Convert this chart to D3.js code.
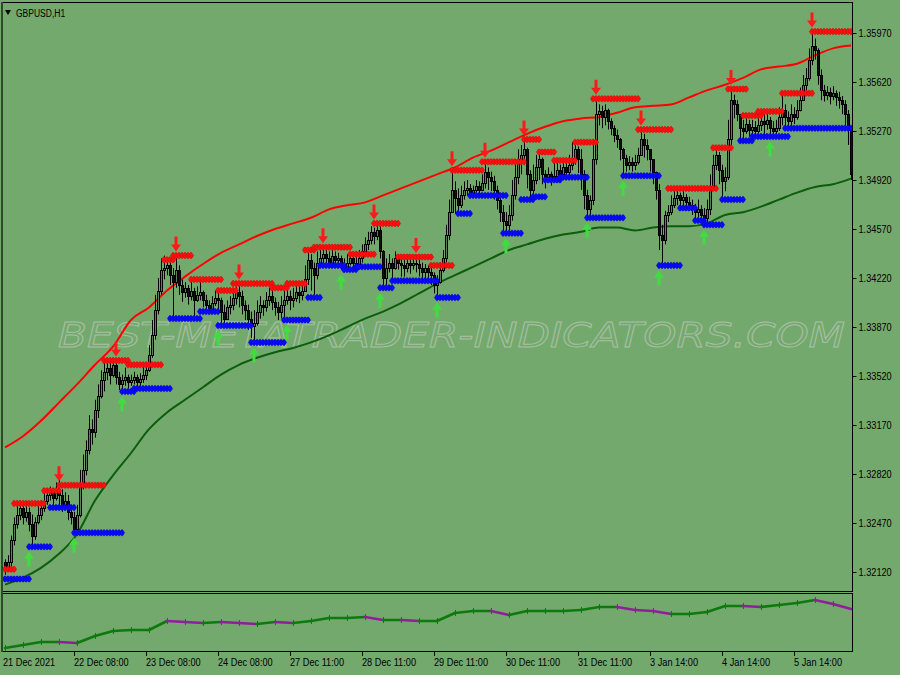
<!DOCTYPE html>
<html><head><meta charset="utf-8">
<script src="https://cdn.jsdelivr.net/npm/d3@7"></script>
<style>html,body{margin:0;padding:0;background:#74a96e;} svg{display:block}</style>
</head><body><svg id="c" width="900" height="675"></svg>
<script>
// ---------------- DATA ----------------
const symbolTitle = "GBPUSD,H1";
const watermark = "BEST-METATRADER-INDICATORS.COM";
const firstOpen = 1.3219;
const closes = [
1.3215,1.3219,1.3235,1.3246,1.3253,1.3258,1.3251,1.3255,1.3246,1.3238,
1.3248,1.3253,1.3258,1.3263,1.3267,1.3269,1.3265,1.3271,1.3267,1.3260,
1.3263,1.3255,1.3251,1.3243,1.3253,1.3274,1.3285,1.3299,1.3314,1.3312,
1.3328,1.3338,1.3349,1.3355,1.3358,1.3353,1.3360,1.3351,1.3346,1.3349,
1.3351,1.3348,1.3349,1.3351,1.3348,1.3350,1.3353,1.3356,1.3367,1.3381,
1.3399,1.3413,1.3428,1.3429,1.3431,1.3424,1.3419,1.3428,1.3417,1.3412,
1.3415,1.3409,1.3413,1.3406,1.3410,1.3412,1.3406,1.3403,1.3399,1.3404,
1.3408,1.3406,1.3398,1.3393,1.3401,1.3403,1.3408,1.3412,1.3409,1.3403,
1.3399,1.3393,1.3388,1.3390,1.3398,1.3403,1.3401,1.3406,1.3409,1.3405,
1.3401,1.3398,1.3403,1.3406,1.3409,1.3406,1.3408,1.3412,1.3410,1.3413,
1.3421,1.3435,1.3429,1.3424,1.3433,1.3436,1.3439,1.3436,1.3433,1.3438,
1.3435,1.3436,1.3432,1.3429,1.3433,1.3436,1.3433,1.3432,1.3436,1.3441,
1.3446,1.3449,1.3455,1.3452,1.3456,1.3441,1.3422,1.3429,1.3433,1.3429,
1.3436,1.3433,1.3431,1.3429,1.3433,1.3431,1.3433,1.3432,1.3429,1.3426,
1.3429,1.3426,1.3424,1.3417,1.3419,1.3428,1.3436,1.3453,1.3469,1.3485,
1.3479,1.3474,1.3481,1.3485,1.3486,1.3483,1.3485,1.3488,1.3485,1.3490,
1.3498,1.3494,1.3491,1.3485,1.3478,1.3469,1.3463,1.3460,1.3467,1.3481,
1.3494,1.3507,1.3510,1.3514,1.3496,1.3485,1.3492,1.3501,1.3507,1.3496,
1.3494,1.3496,1.3492,1.3495,1.3499,1.3496,1.3501,1.3498,1.3503,1.3508,
1.3514,1.3507,1.3496,1.3481,1.3471,1.3478,1.3507,1.3539,1.3541,1.3537,
1.3542,1.3534,1.3529,1.3524,1.3521,1.3514,1.3508,1.3503,1.3505,1.3503,
1.3505,1.3510,1.3521,1.3517,1.3514,1.3507,1.3498,1.3485,1.3453,1.3449,
1.3467,1.3469,1.3474,1.3479,1.3481,1.3478,1.3480,1.3476,1.3474,1.3472,
1.3469,1.3471,1.3467,1.3465,1.3471,1.3488,1.3503,1.3510,1.3499,1.3491,
1.3494,1.3521,1.3549,1.3546,1.3539,1.3529,1.3527,1.3532,1.3528,1.3530,
1.3527,1.3531,1.3534,1.3532,1.3535,1.3529,1.3527,1.3529,1.3537,1.3542,
1.3537,1.3534,1.3539,1.3537,1.3542,1.3549,1.3560,1.3565,1.3578,1.3588,
1.3585,1.3567,1.3556,1.3553,1.3555,1.3552,1.3554,1.3551,1.3549,1.3546,
1.3539,1.3528,1.3496];
const highs = [
1.3221,1.3224,1.3238,1.3251,1.3261,1.3263,1.3260,1.3261,1.3258,1.3253,
1.3251,1.3260,1.3263,1.3271,1.3272,1.3273,1.3272,1.3276,1.3278,1.3271,
1.3269,1.3267,1.3258,1.3255,1.3260,1.3285,1.3296,1.3306,1.3324,1.3321,
1.3335,1.3346,1.3356,1.3362,1.3365,1.3363,1.3365,1.3363,1.3355,1.3353,
1.3358,1.3353,1.3353,1.3355,1.3353,1.3354,1.3359,1.3362,1.3374,1.3392,
1.3410,1.3422,1.3436,1.3438,1.3436,1.3433,1.3429,1.3439,1.3431,1.3421,
1.3419,1.3417,1.3422,1.3415,1.3416,1.3421,1.3413,1.3410,1.3406,1.3409,
1.3413,1.3413,1.3408,1.3403,1.3406,1.3409,1.3413,1.3416,1.3418,1.3413,
1.3406,1.3403,1.3398,1.3399,1.3406,1.3409,1.3406,1.3412,1.3415,1.3415,
1.3408,1.3405,1.3409,1.3413,1.3418,1.3413,1.3415,1.3417,1.3416,1.3419,
1.3431,1.3442,1.3439,1.3433,1.3441,1.3442,1.3444,1.3442,1.3441,1.3442,
1.3441,1.3440,1.3438,1.3436,1.3439,1.3439,1.3439,1.3438,1.3442,1.3446,
1.3451,1.3455,1.3459,1.3458,1.3462,1.3459,1.3442,1.3436,1.3439,1.3436,
1.3441,1.3439,1.3437,1.3435,1.3436,1.3436,1.3436,1.3437,1.3435,1.3433,
1.3432,1.3431,1.3431,1.3426,1.3424,1.3433,1.3442,1.3460,1.3478,1.3499,
1.3491,1.3486,1.3488,1.3491,1.3492,1.3489,1.3488,1.3492,1.3491,1.3496,
1.3505,1.3501,1.3498,1.3495,1.3488,1.3481,1.3474,1.3469,1.3474,1.3492,
1.3507,1.3514,1.3517,1.3521,1.3515,1.3499,1.3503,1.3510,1.3512,1.3508,
1.3499,1.3501,1.3498,1.3506,1.3505,1.3503,1.3506,1.3505,1.3510,1.3519,
1.3517,1.3516,1.3514,1.3499,1.3485,1.3481,1.3521,1.3550,1.3546,1.3545,
1.3546,1.3543,1.3536,1.3531,1.3528,1.3522,1.3515,1.3510,1.3509,1.3508,
1.3510,1.3515,1.3528,1.3525,1.3521,1.3514,1.3507,1.3496,1.3489,1.3460,
1.3470,1.3474,1.3481,1.3486,1.3485,1.3483,1.3485,1.3482,1.3480,1.3478,
1.3475,1.3478,1.3474,1.3472,1.3478,1.3496,1.3510,1.3515,1.3512,1.3503,
1.3501,1.3535,1.3558,1.3553,1.3549,1.3539,1.3535,1.3538,1.3535,1.3535,
1.3534,1.3537,1.3541,1.3539,1.3540,1.3537,1.3534,1.3535,1.3544,1.3554,
1.3546,1.3541,1.3546,1.3544,1.3549,1.3558,1.3567,1.3572,1.3586,1.3598,
1.3593,1.3586,1.3571,1.3560,1.3559,1.3558,1.3559,1.3556,1.3555,1.3552,
1.3549,1.3542,1.3529];
const lows = [
1.3210,1.3212,1.3216,1.3231,1.3243,1.3249,1.3246,1.3248,1.3241,1.3231,
1.3235,1.3246,1.3249,1.3255,1.3260,1.3263,1.3260,1.3263,1.3260,1.3255,
1.3256,1.3249,1.3246,1.3240,1.3242,1.3251,1.3271,1.3281,1.3296,1.3303,
1.3308,1.3322,1.3336,1.3341,1.3349,1.3346,1.3351,1.3346,1.3342,1.3342,
1.3345,1.3343,1.3345,1.3346,1.3344,1.3345,1.3347,1.3349,1.3355,1.3365,
1.3378,1.3396,1.3410,1.3421,1.3424,1.3417,1.3393,1.3415,1.3410,1.3405,
1.3408,1.3403,1.3406,1.3393,1.3405,1.3406,1.3401,1.3398,1.3396,1.3399,
1.3402,1.3398,1.3388,1.3388,1.3392,1.3396,1.3399,1.3403,1.3401,1.3396,
1.3392,1.3385,1.3379,1.3377,1.3388,1.3393,1.3395,1.3398,1.3402,1.3399,
1.3395,1.3392,1.3393,1.3392,1.3403,1.3399,1.3401,1.3405,1.3404,1.3406,
1.3412,1.3417,1.3413,1.3408,1.3421,1.3429,1.3431,1.3431,1.3429,1.3432,
1.3431,1.3431,1.3428,1.3426,1.3428,1.3431,1.3430,1.3430,1.3431,1.3433,
1.3438,1.3442,1.3446,1.3446,1.3449,1.3436,1.3413,1.3417,1.3426,1.3420,
1.3428,1.3428,1.3423,1.3423,1.3426,1.3425,1.3428,1.3426,1.3423,1.3421,
1.3422,1.3419,1.3417,1.3411,1.3408,1.3418,1.3426,1.3433,1.3449,1.3469,
1.3468,1.3468,1.3472,1.3478,1.3481,1.3479,1.3481,1.3483,1.3481,1.3484,
1.3486,1.3485,1.3484,1.3478,1.3471,1.3462,1.3456,1.3454,1.3456,1.3463,
1.3478,1.3489,1.3496,1.3503,1.3486,1.3478,1.3479,1.3489,1.3492,1.3489,
1.3486,1.3491,1.3488,1.3491,1.3492,1.3491,1.3492,1.3492,1.3495,1.3499,
1.3503,1.3497,1.3485,1.3471,1.3465,1.3467,1.3474,1.3503,1.3531,1.3529,
1.3531,1.3528,1.3524,1.3519,1.3515,1.3506,1.3495,1.3498,1.3499,1.3498,
1.3499,1.3503,1.3510,1.3508,1.3506,1.3498,1.3489,1.3478,1.3442,1.3429,
1.3446,1.3462,1.3467,1.3472,1.3474,1.3472,1.3473,1.3472,1.3471,1.3467,
1.3463,1.3463,1.3462,1.3461,1.3461,1.3467,1.3485,1.3499,1.3489,1.3480,
1.3484,1.3492,1.3517,1.3536,1.3534,1.3519,1.3521,1.3525,1.3523,1.3524,
1.3523,1.3525,1.3527,1.3525,1.3528,1.3523,1.3523,1.3523,1.3527,1.3531,
1.3529,1.3528,1.3531,1.3532,1.3535,1.3541,1.3549,1.3556,1.3563,1.3574,
1.3578,1.3560,1.3549,1.3548,1.3549,1.3546,1.3549,1.3545,1.3543,1.3539,
1.3531,1.3517,1.3492];

// moving-average envelope, one value every 6 bars
const maStep = 6;
const maUpper = [1.3301,1.3309,1.3320,1.3333,1.3346,1.3360,1.3373,1.3392,1.3401,1.3413,1.3423,1.3432,1.3440,1.3446,1.3452,1.3457,1.3461,1.3465,1.3471,1.3474,1.3476,1.3481,1.3486,1.3491,1.3496,1.3501,1.3508,1.3513,1.3519,1.3525,1.3530,1.3534,1.3536,1.3537,1.3540,1.3544,1.3545,1.3546,1.3551,1.3556,1.3560,1.3565,1.3571,1.3573,1.3575,1.3581,1.3586,1.3588];
const maLower = [1.3203,1.3208,1.3215,1.3225,1.3239,1.3263,1.3281,1.3297,1.3314,1.3326,1.3335,1.3344,1.3353,1.3360,1.3365,1.3369,1.3372,1.3376,1.3381,1.3387,1.3393,1.3398,1.3404,1.3411,1.3418,1.3424,1.3430,1.3436,1.3442,1.3446,1.3450,1.3453,1.3455,1.3458,1.3458,1.3456,1.3458,1.3459,1.3459,1.3461,1.3467,1.3469,1.3473,1.3478,1.3483,1.3487,1.3489,1.3493];
const oscValues = [5.3,10.5,15.8,15.8,14,26.3,35.1,36.8,36.8,52.6,50.9,49.1,50.9,49.1,47.4,50.9,49.1,52.6,57.9,57.9,59.6,54.4,54.4,52.6,52.6,66.7,70.2,70.2,63.2,70.2,70.2,70.2,71.9,77.2,77.2,71.9,70.2,64.9,64.9,68.4,78.9,78.9,77.2,80.7,84.2,89.5,82.5,73.7];

// resistance / support levels: [firstBar, lastBar, price]
const resistance = [[0,3,1.3214],[3,13,1.3261],[13,18,1.3270],[18,33,1.3274],[33,41,1.3363],[41,52,1.3360],[53,56,1.3435],[56,62,1.3438],[62,72,1.3421],[71,77,1.3413],[76,89,1.3418],[89,94,1.3415],[94,100,1.3418],[100,103,1.3442],[103,115,1.3444],[115,123,1.3439],[123,131,1.3461],[131,142,1.3437],[142,149,1.3431],[149,159,1.3499],[159,173,1.3505],[173,178,1.3521],[178,183,1.3512],[183,190,1.3506],[190,197,1.3519],[196,211,1.3550],[211,222,1.3528],[221,237,1.3486],[236,242,1.3515],[241,247,1.3557],[246,252,1.3538],[251,259,1.3541],[259,269,1.3554],[269,282,1.3598]];
const support = [[0,8,1.3207],[8,15,1.3230],[15,23,1.3258],[23,39,1.3240],[39,43,1.3341],[43,55,1.3343],[55,65,1.3393],[65,71,1.3398],[71,75,1.3388],[76,82,1.3388],[82,93,1.3376],[93,101,1.3392],[101,105,1.3408],[105,113,1.3431],[113,117,1.3428],[117,125,1.3430],[125,129,1.3415],[129,144,1.3420],[144,151,1.3408],[151,155,1.3468],[155,167,1.3481],[166,172,1.3454],[172,176,1.3478],[176,180,1.3480],[180,185,1.3492],[185,194,1.3494],[194,206,1.3465],[206,218,1.3495],[218,225,1.3431],[225,230,1.3472],[230,233,1.3463],[233,239,1.3460],[239,246,1.3478],[245,249,1.3520],[249,261,1.3523],[260,282,1.3529]];
// signal arrows: [bar, level]
const sellSignals = [[18,1.3274],[37,1.3363],[57,1.3438],[78,1.3418],[106,1.3444],[123,1.3461],[137,1.3437],[149,1.3499],[160,1.3505],[173,1.3521],[197,1.3550],[212,1.3528],[242,1.3557],[269,1.3598]];
const buySignals = [[8,1.3230],[23,1.3240],[39,1.3341],[71,1.3388],[83,1.3376],[94,1.3392],[112,1.3428],[125,1.3415],[144,1.3408],[167,1.3454],[194,1.3465],[206,1.3495],[218,1.3431],[233,1.3460],[255,1.3523]];

const priceTicks = [1.35970,1.35620,1.35270,1.34920,1.34570,1.34220,1.33870,1.33520,1.33170,1.32820,1.32470,1.32120];
const timeLabels = ["21 Dec 2021","22 Dec 08:00","23 Dec 08:00","24 Dec 08:00","27 Dec 11:00","28 Dec 11:00","29 Dec 11:00","30 Dec 11:00","31 Dec 11:00","3 Jan 14:00","4 Jan 14:00","5 Jan 14:00"];
const timeBars = [0,23,47,71,95,119,143,167,191,215,239,263];

// ---------------- DRAW ----------------
const FONT = "'Liberation Sans',Arial,sans-serif";
const FS = 11.5, SX = 0.8;
const BG = "#74a96e";
const svg = d3.select('#c');
svg.append('rect').attr('width',900).attr('height',675).attr('fill',BG);

const N = closes.length;
const x = d3.scaleLinear().domain([0, N-1]).range([5, 5 + 3*(N-1)]);
const y = d3.scaleLinear().domain([1.3212, 1.3597]).range([572, 33]);
const yo = d3.scaleLinear().domain([0, 100]).range([651, 594]);

function label(g, tx, ty, str, sx){
  g.append('text').attr('transform',`translate(${tx},${ty}) scale(${sx||SX},1)`)
    .attr('font-family',FONT).attr('font-size',FS).attr('fill','#000').text(str);
}

const defs = svg.append('defs');
defs.append('clipPath').attr('id','mainClip').append('rect').attr('x',3).attr('y',3).attr('width',849).attr('height',588);
defs.append('clipPath').attr('id','subClip').append('rect').attr('x',3).attr('y',594).attr('width',849).attr('height',57);

const main = svg.append('g').attr('clip-path','url(#mainClip)');

// watermark
main.append('text').attr('x',58).attr('y',347)
  .attr('font-family',"'DejaVu Sans',sans-serif").attr('font-size',33).attr('font-style','italic')
  .attr('textLength',787).attr('lengthAdjust','spacingAndGlyphs')
  .attr('fill','none').attr('stroke','#b3c4af').attr('stroke-width',0.9).attr('opacity',0.85)
  .text(watermark);

// MA lines
const maLine = d3.line().x((d,i)=>x(Math.min(i*maStep, N-1))).y(d=>y(d)).curve(d3.curveMonotoneX);
main.append('path').attr('d',maLine(maUpper)).attr('fill','none').attr('stroke','#ff0000').attr('stroke-width',2);
main.append('path').attr('d',maLine(maLower)).attr('fill','none').attr('stroke','#0b5e0b').attr('stroke-width',2);

// candles
const candles = closes.map((c,i)=>{
  const o = i===0 ? firstOpen : closes[i-1];
  return {i, o, c, h: Math.max(highs[i], o, c), l: Math.min(lows[i], o, c)};
});
const cg = main.append('g');
candles.forEach(d=>{
  const cx = Math.round(x(d.i)) + 0.5;
  cg.append('line').attr('x1',cx).attr('x2',cx).attr('y1',y(d.h)).attr('y2',y(d.l)).attr('stroke','#000').attr('stroke-width',1);
  const top = Math.round(y(Math.max(d.o,d.c))) + 0.5;
  const bot = Math.max(top + 1, Math.round(y(Math.min(d.o,d.c))) + 0.5);
  cg.append('rect').attr('x',cx-1).attr('y',top).attr('width',2).attr('height',bot-top)
    .attr('fill', d.c >= d.o ? '#5f7f5e' : '#111').attr('stroke','#000').attr('stroke-width',1);
});

// level markers (one mark per bar)
const marker = "M-2.6,0 L-0.6,-3 L0.6,-3 L2.6,0 L0.6,3 L-0.6,3 Z";
function drawLevels(levels, fill, edge){
  const g = main.append('g');
  levels.forEach(([s,e,p])=>{
    g.append('rect').attr('x',x(s)-2).attr('y',y(p)-1.3).attr('width',x(e)-x(s)+4).attr('height',2.6).attr('fill',fill);
    d3.range(s, e+1).forEach(i=>{
      g.append('path').attr('d',marker).attr('transform',`translate(${x(i)},${y(p)})`)
        .attr('fill',fill).attr('stroke',edge).attr('stroke-width',0.5);
    });
  });
}
drawLevels(resistance,'#ff1010','#d00000');
drawLevels(support,'#0a0aff','#0000c8');

// arrows
const ag = main.append('g');
sellSignals.forEach(([b,p])=>{
  const cx = x(b), tip = y(p) - 4;
  ag.append('path').attr('d',`M${cx-1.5},${tip-15} h3 v8 h3.5 L${cx},${tip} L${cx-5},${tip-7} h3.5 Z`).attr('fill','#ff1a1a');
});
buySignals.forEach(([b,p])=>{
  const cx = x(b), tip = y(p) + 5;
  ag.append('path').attr('d',`M${cx-1.5},${tip+15} h3 v-8 h3.5 L${cx},${tip} L${cx-5},${tip+7} h3.5 Z`).attr('fill','#3fdd3f');
});

// oscillator subwindow
const sub = svg.append('g').attr('clip-path','url(#subClip)');
for (let k=0; k<oscValues.length-1; k++){
  const i0 = Math.min(k*maStep, N-1), i1 = Math.min((k+1)*maStep, N-1);
  const col = oscValues[k+1] >= oscValues[k] ? '#0d7a0d' : '#8e1f9a';
  sub.append('line').attr('x1',x(i0)).attr('y1',yo(oscValues[k])).attr('x2',x(i1)).attr('y2',yo(oscValues[k+1]))
    .attr('stroke', col).attr('stroke-width',2.6).attr('stroke-linecap','round');
  sub.append('line').attr('x1',x(i0)+0.5).attr('x2',x(i0)+0.5).attr('y1',yo(oscValues[k])-3).attr('y2',yo(oscValues[k])+3)
    .attr('stroke', col).attr('stroke-width',1);
}

// frames
const frame = svg.append('g').attr('fill','none').attr('stroke','#000').attr('stroke-width',1);
frame.append('rect').attr('x',2.5).attr('y',2.5).attr('width',850).attr('height',589);
frame.append('rect').attr('x',2.5).attr('y',593.5).attr('width',850).attr('height',58);
svg.append('line').attr('x1',2).attr('x2',2).attr('y1',2).attr('y2',652).attr('stroke','#2c4a2a').attr('stroke-width',2);

// price axis
const yAxis = d3.axisRight(y).tickValues(priceTicks).tickFormat(d3.format('.5f')).tickSize(4).tickPadding(3);
const ya = svg.append('g').attr('transform','translate(852.5,0)').call(yAxis);
ya.select('.domain').remove();
ya.selectAll('line').attr('stroke','#000');
ya.selectAll('text').attr('font-family',FONT).attr('font-size',FS).attr('fill','#000')
  .attr('x',0).attr('dy',null).attr('dominant-baseline','central')
  .attr('transform',`translate(6,0) scale(${SX},1)`);

// time axis
const tg = svg.append('g');
timeLabels.forEach((t,k)=>{
  const tx = Math.round(x(timeBars[k])) + 0.5;
  if (k>0) tg.append('line').attr('x1',tx).attr('x2',tx).attr('y1',652).attr('y2',656).attr('stroke','#000');
  label(tg, k===0 ? 3 : tx - 0.5, 666, t);
});

// title
svg.append('path').attr('d','M5,10 L11,10 L8,15 Z').attr('fill','#000');
label(svg, 16, 17, symbolTitle, 0.74);
</script></body></html>
